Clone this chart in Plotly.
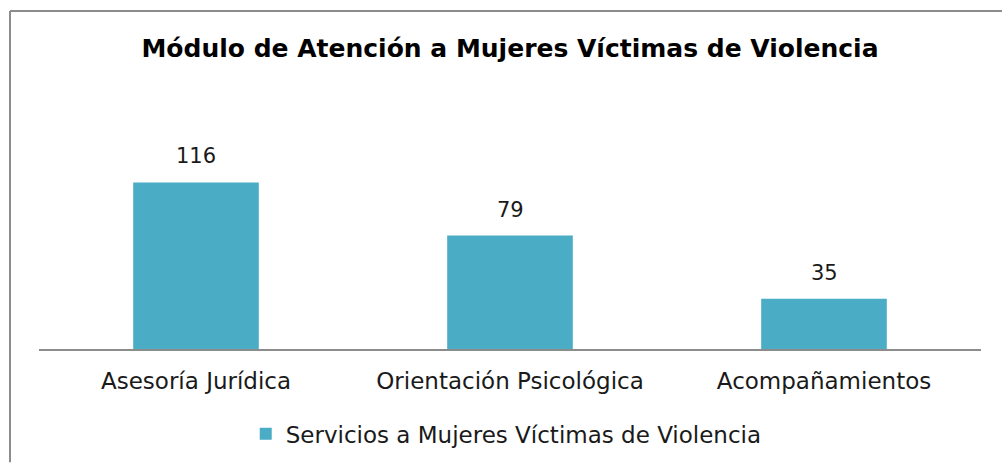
import plotly.graph_objects as go

categories = ["Asesoría Jurídica", "Orientación Psicológica", "Acompañamientos"]
values = [116, 79, 35]
series_name = "Servicios a Mujeres Víctimas de Violencia"
title_text = "Módulo de Atención a Mujeres Víctimas de Violencia"

W, H = 1002, 467
ml, mr, mt, mb = 39, 21, 148, 115
ph = 352 - 148
pw = W - ml - mr

fig = go.Figure()
fig.add_trace(go.Bar(
    x=categories, y=values, name=series_name,
    marker=dict(color="#4BACC6", line=dict(width=0)),
    width=0.4,
    showlegend=True,
))

for c, v in zip(categories, values):
    fig.add_annotation(x=c, y=v, text=str(v), showarrow=False,
                       yanchor="bottom", yshift=12,
                       font=dict(size=21, color="#1a1a1a", family="DejaVu Sans"))

fig.update_layout(
    width=W, height=H,
    margin=dict(l=ml, r=mr, t=mt, b=mb),
    paper_bgcolor="white", plot_bgcolor="white",
    font=dict(family="DejaVu Sans", color="#1a1a1a"),
    title=dict(text="<b>" + title_text + "</b>", x=0.509, xanchor="center",
               y=1 - 48 / H, yanchor="middle",
               font=dict(size=25, color="black", family="DejaVu Sans")),
    xaxis=dict(showline=True, linecolor="#8c8c8c", linewidth=2,
               showgrid=False, ticks="", ticklabelstandoff=10,
               tickfont=dict(size=23, color="#1a1a1a"), fixedrange=True),
    yaxis=dict(range=[0, 140], visible=False, showgrid=False, fixedrange=True),
    showlegend=True,
    legend=dict(orientation="h", x=0.496, xanchor="center",
                y=(352 - 438) / ph, yanchor="middle",
                font=dict(size=23, color="#1a1a1a"),
                itemwidth=30),
    bargap=0.6,
)

# outer border (top and left visible)
fig.add_shape(type="line", xref="paper", yref="paper",
              x0=(10 - ml) / pw, x1=(W - ml) / pw,
              y0=(352 - 9) / ph, y1=(352 - 9) / ph,
              line=dict(color="#8c8c8c", width=2))
fig.add_shape(type="line", xref="paper", yref="paper",
              x0=(10 - ml) / pw, x1=(10 - ml) / pw,
              y0=(352 - 9) / ph, y1=(352 - H) / ph,
              line=dict(color="#8c8c8c", width=2))

fig.write_html("out.html", config={"displayModeBar": False},
               post_script="document.body.style.margin='0';")
